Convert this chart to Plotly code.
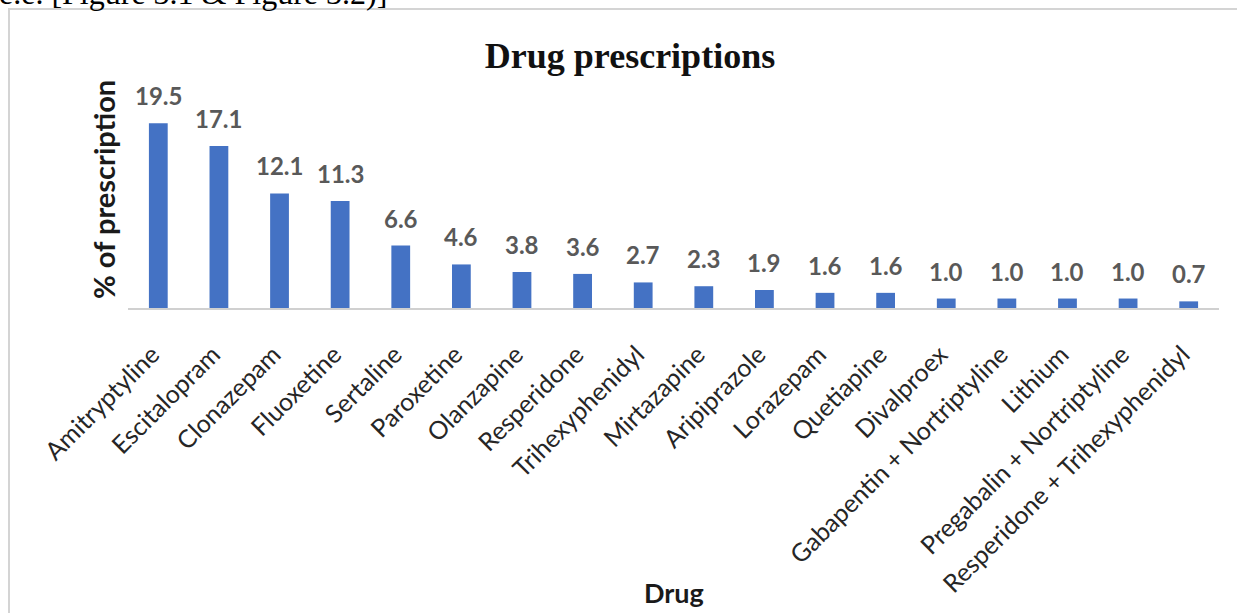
import plotly.graph_objects as go

drugs = ["Amitryptyline", "Escitalopram", "Clonazepam", "Fluoxetine", "Sertaline",
         "Paroxetine", "Olanzapine", "Resperidone", "Trihexyphenidyl", "Mirtazapine",
         "Aripiprazole", "Lorazepam", "Quetiapine", "Divalproex",
         "Gabapentin + Nortriptyline", "Lithium", "Pregabalin + Nortriptyline",
         "Resperidone + Trihexyphenidyl"]
percent = [19.5, 17.1, 12.1, 11.3, 6.6, 4.6, 3.8, 3.6, 2.7, 2.3, 1.9, 1.6, 1.6,
           1.0, 1.0, 1.0, 1.0, 0.7]
labels = [f"{v:.1f}" for v in percent]

W, H = 1237, 613
L, R, T, B = 128, 18, 98, 305
ph = H - T - B
pw = W - L - R

fig = go.Figure()
fig.add_trace(go.Bar(x=drugs, y=percent, marker=dict(color="#4472C4", line=dict(width=0)),
                     hoverinfo="x+y"))

for d, v, t in zip(drugs, percent, labels):
    fig.add_annotation(x=d, y=v, text=f"<b>{t}</b>", showarrow=False, yanchor="bottom",
                       yshift=11, font=dict(family="Lato", size=24, color="#595959"))

def px2x(px):
    return (px - L) / pw

def py2y(py):
    return (H - B - py) / ph

# outer frame
fig.add_shape(type="rect", xref="paper", yref="paper",
              x0=px2x(9), x1=px2x(W + 20), y0=py2y(H + 20), y1=py2y(9),
              line=dict(color="#d4d4d4", width=2), fillcolor="rgba(0,0,0,0)", layer="below")

# partially cropped document text above the chart
fig.add_annotation(xref="paper", yref="paper", x=px2x(-3), y=py2y(13), xanchor="left",
                   yanchor="bottom", showarrow=False, text="e.e. [Figure 3.1 &amp; Figure 3.2)]",
                   font=dict(family="Liberation Serif", size=32, color="#000000"))

# axis titles
fig.add_annotation(xref="paper", yref="paper", x=px2x(674), y=py2y(611), xanchor="center",
                   yanchor="bottom", showarrow=False, text="<b>Drug</b>",
                   font=dict(family="Lato", size=27, color="#1a1a1a"))
fig.add_annotation(xref="paper", yref="paper", x=px2x(103), y=py2y(190), xanchor="center",
                   yanchor="middle", showarrow=False, text="<b>% of prescription</b>",
                   textangle=-90, font=dict(family="Lato", size=29, color="#1a1a1a"))

fig.update_layout(
    width=W, height=H,
    margin=dict(l=L, r=R, t=T, b=B, pad=0),
    paper_bgcolor="white", plot_bgcolor="white",
    bargap=0.69,
    showlegend=False,
    title=dict(text="<b>Drug prescriptions</b>", x=630 / W, xanchor="center",
               y=1 - 55 / H, yanchor="middle",
               font=dict(family="Liberation Serif", size=36, color="#111111")),
    xaxis=dict(
        tickangle=-45, tickfont=dict(family="Lato", size=25, color="#262626"),
        ticklabelstandoff=20, ticklabelshift=-6,
        showline=True, linecolor="#d0d0d0", linewidth=2, ticks="", showgrid=False,
        automargin=False,
    ),
    yaxis=dict(
        range=[0, ph / 9.47], showticklabels=False, showgrid=False, zeroline=False,
        showline=False, ticks="", automargin=False,
    ),
)

fig.write_html("out.html")
